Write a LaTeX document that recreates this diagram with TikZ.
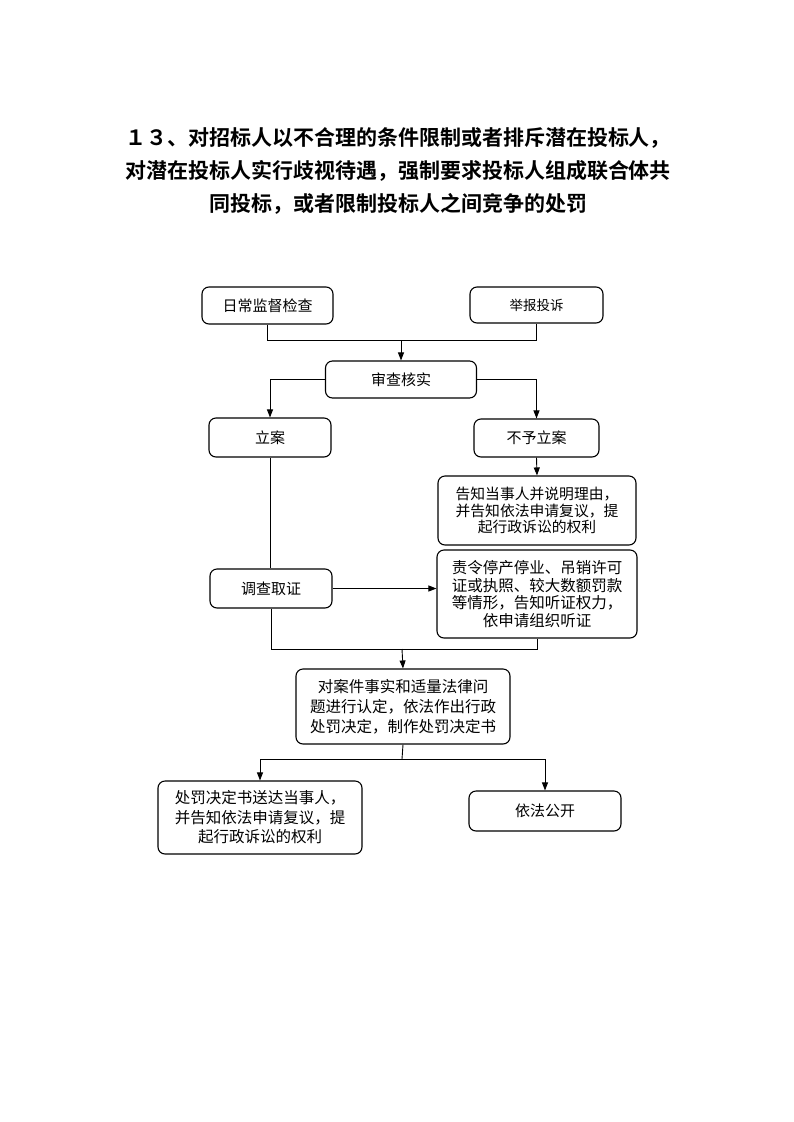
\documentclass[tikz,border=0pt]{standalone}
\usepackage{fontspec}
\setmainfont{Noto Sans CJK SC}
\newfontfamily\cjkbold{Noto Sans CJK SC Bold}
\usetikzlibrary{arrows.meta}
\tikzset{
  box/.style={draw, rounded corners=7pt, line width=1.1pt, inner sep=0pt, align=center,
    font=\fontsize{15}{19}\selectfont},
  conn/.style={line width=0.9pt},
  arr/.style={conn, -{Triangle[length=8pt,width=6pt]}},
}
\begin{document}
\begin{tikzpicture}[x=1pt,y=-1pt]
\useasboundingbox (0,0) rectangle (793,1122);
\node[font=\cjkbold\fontsize{21}{33}\selectfont, align=center] (title) at (398,171)
  {１３、对招标人以不合理的条件限制或者排斥潜在投标人，\\对潜在投标人实行歧视待遇，强制要求投标人组成联合体共\\同投标，或者限制投标人之间竞争的处罚};

\node[box, minimum width=131pt, minimum height=37pt] (a) at (267.5,305.5) {日常监督检查};
\node[box, minimum width=133pt, minimum height=36pt, font=\fontsize{13.5}{17}\selectfont] (b) at (536.5,305) {举报投诉};
\node[box, minimum width=151pt, minimum height=37pt] (c) at (401,379.5) {审查核实};
\node[box, minimum width=122pt, minimum height=39pt] (d) at (270,437.5) {立案};
\node[box, minimum width=125pt, minimum height=38pt] (e) at (536.5,438) {不予立案};
\node[box, minimum width=198pt, minimum height=69pt, font=\fontsize{14.8}{16.5}\selectfont] (f) at (537,510.5)
  {告知当事人并说明理由，\\并告知依法申请复议，提\\起行政诉讼的权利};
\node[box, minimum width=122pt, minimum height=39pt] (g) at (271,588.5) {调查取证};
\node[box, minimum width=200pt, minimum height=88pt, font=\fontsize{15.5}{17.5}\selectfont] (h) at (537,594)
  {责令停产停业、吊销许可\\证或执照、较大数额罚款\\等情形，告知听证权力，\\依申请组织听证};
\node[box, minimum width=214pt, minimum height=75pt, font=\fontsize{15.5}{20}\selectfont] (i) at (403,706.5)
  {对案件事实和适量法律问\\题进行认定，依法作出行政\\处罚决定，制作处罚决定书};
\node[box, minimum width=204pt, minimum height=73pt, font=\fontsize{15.5}{19.5}\selectfont] (k) at (260,817.5)
  {处罚决定书送达当事人，\\并告知依法申请复议，提\\起行政诉讼的权利};
\node[box, minimum width=152pt, minimum height=40pt] (l) at (545,811) {依法公开};

\coordinate (j1) at (401,340);
\coordinate (j2) at (402,649);
\coordinate (j3) at (402,759);

\draw[conn] (a.south) -- (a.south |- j1) -- (b.south |- j1) -- (b.south);
\draw[arr] (j1) -- (c.north);
\draw[arr] (c.west) -| (d.north);
\draw[arr] (c.east) -| (e.north);
\draw[arr] (e.south) -- (f.north);
\draw[conn] (d.south) -- (d.south |- g.north);
\draw[arr] (g.east) -- (g.east -| h.west);
\draw[conn] (g.south) -- (g.south |- j2) -- (h.south |- j2) -- (h.south);
\draw[arr] (j2) -- (i.north);
\draw[conn] (i.south) -- (j3);
\draw[arr] (j3) -| (k.north);
\draw[arr] (j3) -| (l.north);
\end{tikzpicture}
\end{document}
